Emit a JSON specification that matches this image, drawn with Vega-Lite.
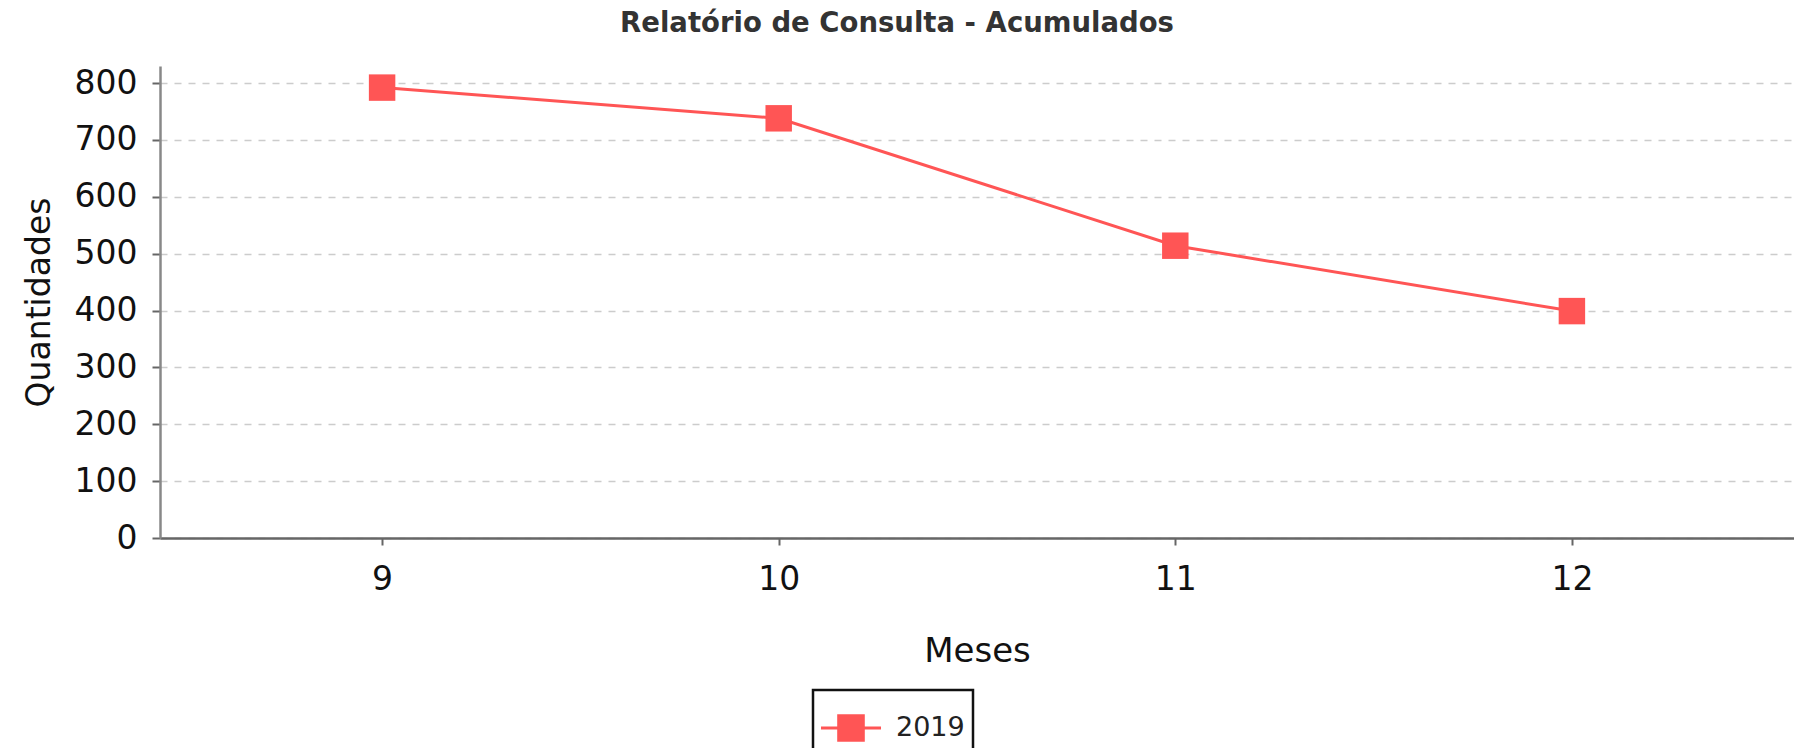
{
  "$schema": "https://vega.github.io/schema/vega-lite/v6.json",
  "width": 1634,
  "height": 472,
  "autosize": "none",
  "padding": {"left": 160, "top": 66, "right": 0, "bottom": 210},
  "background": "white",
  "title": {
    "text": "Relatório de Consulta - Acumulados",
    "font": "DejaVu Sans",
    "fontSize": 27.5,
    "fontWeight": "bold",
    "color": "#333333",
    "anchor": "middle",
    "dx": -80,
    "offset": 29
  },
  "config": {"view": {"stroke": null}, "font": "DejaVu Sans"},
  "data": {
    "values": [
      {"mes": 9, "quantidade": 792, "ano": "2019"},
      {"mes": 10, "quantidade": 738, "ano": "2019"},
      {"mes": 11, "quantidade": 514, "ano": "2019"},
      {"mes": 12, "quantidade": 399, "ano": "2019"}
    ]
  },
  "mark": {
    "type": "line",
    "strokeWidth": 3,
    "point": {"shape": "square", "size": 700, "filled": true, "opacity": 1}
  },
  "encoding": {
    "x": {
      "field": "mes",
      "type": "ordinal",
      "scale": {"type": "point", "padding": 0.56},
      "axis": {
        "title": "Meses",
        "labelAngle": 0,
        "labelFontSize": 33,
        "labelColor": "#111111",
        "labelPadding": 18,
        "titleFontSize": 34,
        "titleFontWeight": "normal",
        "titleColor": "#111111",
        "titlePadding": 38,
        "domainColor": "#666666",
        "domainWidth": 2.5,
        "tickColor": "#666666",
        "tickSize": 7,
        "tickWidth": 2,
        "grid": false
      }
    },
    "y": {
      "field": "quantidade",
      "type": "quantitative",
      "scale": {"domain": [0, 830], "nice": false},
      "axis": {
        "title": "Quantidades",
        "values": [0, 100, 200, 300, 400, 500, 600, 700, 800],
        "labelFontSize": 33,
        "labelColor": "#111111",
        "labelPadding": 15,
        "titleFontSize": 33,
        "titleFontWeight": "normal",
        "titleColor": "#111111",
        "titlePadding": 18,
        "domainColor": "#888888",
        "domainWidth": 2.5,
        "tickColor": "#666666",
        "tickSize": 8,
        "tickWidth": 2,
        "grid": true,
        "gridColor": "#cccccc",
        "gridDash": [7, 7],
        "gridWidth": 1.5
      }
    },
    "color": {
      "field": "ano",
      "type": "nominal",
      "scale": {"range": ["#ff5555"]},
      "legend": {
        "title": null,
        "orient": "none",
        "legendX": 653,
        "legendY": 624,
        "strokeColor": "#111111",
        "padding": 8,
        "cornerRadius": 0,
        "symbolType": "M-1,-0.05H1V0.05H-1Z M-0.46,-0.46H0.46V0.46H-0.46Z",
        "symbolSize": 3600,
        "labelFontSize": 27,
        "labelColor": "#222222",
        "labelOffset": 15,
        "encode": {
          "legend": {
            "update": {
              "strokeWidth": {"value": 2.5}
            }
          },
          "symbols": {
            "update": {
              "fill": {"value": "#ff5555"},
              "stroke": {"value": "#ff5555"},
              "strokeWidth": {"value": 0},
              "opacity": {"value": 1}
            }
          }
        }
      }
    }
  }
}
